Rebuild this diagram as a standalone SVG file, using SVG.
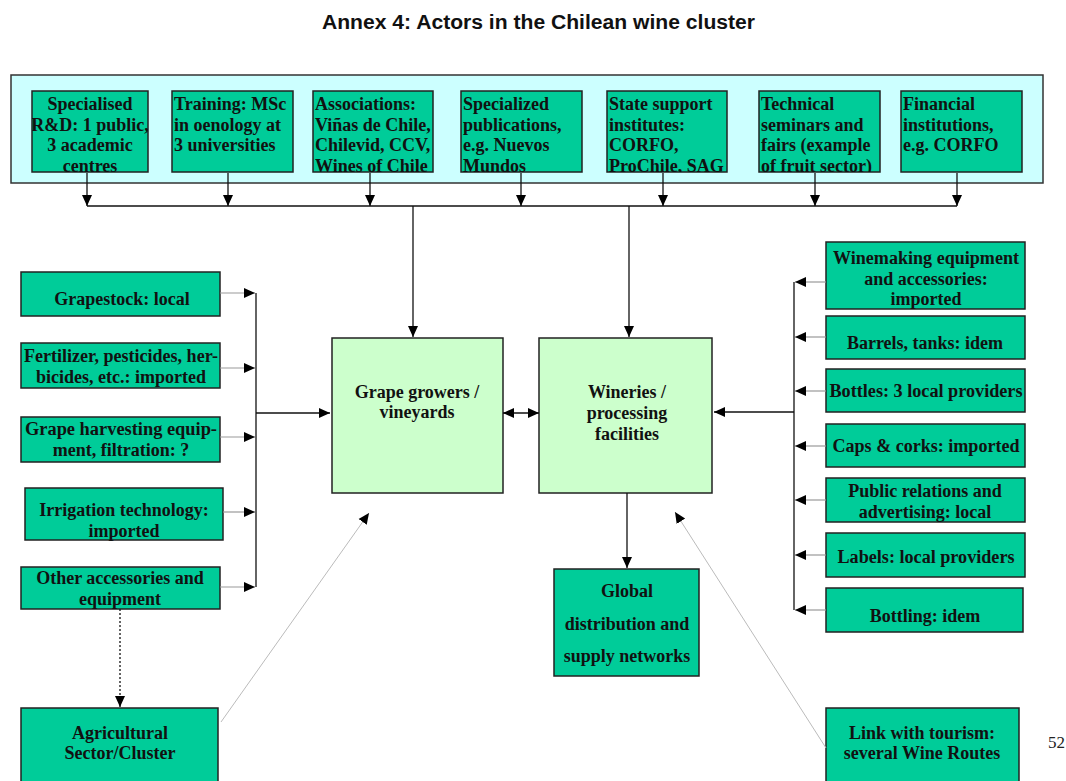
<svg xmlns="http://www.w3.org/2000/svg" width="1066" height="781" viewBox="0 0 1066 781">
<style>
.t{font-family:"Liberation Serif","Times New Roman",serif;font-weight:bold;font-size:18px;fill:#111}
.c{text-anchor:middle}
.g{fill:#00cc99;stroke:#222;stroke-width:1.5}
.lg{fill:#ccffcc;stroke:#222;stroke-width:1.5}
.ln{stroke:#111;stroke-width:1.3;fill:none}
.gr{stroke:#999;stroke-width:1.2;fill:none}
.fl{stroke:#bbb;stroke-width:1;fill:none}
</style>
<defs>
<marker id="ah" markerUnits="userSpaceOnUse" markerWidth="12" markerHeight="12" viewBox="0 0 12 12" refX="11" refY="6" orient="auto">
<path d="M0,1 L11,6 L0,11 Z" fill="#000"/>
</marker>
<marker id="as" markerUnits="userSpaceOnUse" markerWidth="12" markerHeight="12" viewBox="0 0 12 12" refX="1" refY="6" orient="auto">
<path d="M12,1 L1,6 L12,11 Z" fill="#000"/>
</marker>
<clipPath id="c1"><rect x="32" y="91" width="116" height="81"/></clipPath>
<clipPath id="c2"><rect x="172" y="91" width="121" height="81"/></clipPath>
<clipPath id="c3"><rect x="313" y="91" width="120" height="81"/></clipPath>
<clipPath id="c4"><rect x="461" y="91" width="121" height="81"/></clipPath>
<clipPath id="c5"><rect x="607" y="91" width="120" height="81"/></clipPath>
<clipPath id="c6"><rect x="759" y="91" width="121" height="81"/></clipPath>
<clipPath id="c7"><rect x="901" y="91" width="121" height="81"/></clipPath>
</defs>
<rect width="1066" height="781" fill="#fff"/>
<text x="322" y="29" textLength="433" lengthAdjust="spacingAndGlyphs" font-family="Liberation Sans, Arial, sans-serif" font-weight="bold" font-size="19.5" fill="#111">Annex 4: Actors in the Chilean wine cluster</text>

<rect x="11" y="75" width="1032" height="108" fill="#ccffff" stroke="#333" stroke-width="1.5"/>

<g id="n-rd"><rect class="g" x="32" y="91" width="116" height="81"/>
<g clip-path="url(#c1)"><text class="t c" x="90"><tspan x="90" y="110">Specialised</tspan><tspan x="90" y="130.5">R&amp;D: 1 public,</tspan><tspan x="90" y="151">3 academic</tspan><tspan x="90" y="171.5">centres</tspan></text></g></g>
<g id="n-training"><rect class="g" x="172" y="91" width="121" height="81"/>
<g clip-path="url(#c2)"><text class="t"><tspan x="174" y="110">Training: MSc</tspan><tspan x="174" y="130.5">in oenology at</tspan><tspan x="174" y="151">3 universities</tspan></text></g></g>
<g id="n-assoc"><rect class="g" x="313" y="91" width="120" height="81"/>
<g clip-path="url(#c3)"><text class="t"><tspan x="315" y="110">Associations:</tspan><tspan x="315" y="130.5">Viñas de Chile,</tspan><tspan x="315" y="151">Chilevid, CCV,</tspan><tspan x="315" y="171.5">Wines of Chile</tspan></text></g></g>
<g id="n-pub"><rect class="g" x="461" y="91" width="121" height="81"/>
<g clip-path="url(#c4)"><text class="t"><tspan x="463" y="110">Specialized</tspan><tspan x="463" y="130.5">publications,</tspan><tspan x="463" y="151">e.g. Nuevos</tspan><tspan x="463" y="171.5">Mundos</tspan></text></g></g>
<g id="n-state"><rect class="g" x="607" y="91" width="120" height="81"/>
<g clip-path="url(#c5)"><text class="t"><tspan x="609" y="110">State support</tspan><tspan x="609" y="130.5">institutes:</tspan><tspan x="609" y="151">CORFO,</tspan><tspan x="609" y="171.5">ProChile, SAG</tspan></text></g></g>
<g id="n-tech"><rect class="g" x="759" y="91" width="121" height="81"/>
<g clip-path="url(#c6)"><text class="t"><tspan x="761" y="110">Technical</tspan><tspan x="761" y="130.5">seminars and</tspan><tspan x="761" y="151">fairs (example</tspan><tspan x="761" y="171.5">of fruit sector)</tspan></text></g></g>
<g id="n-fin"><rect class="g" x="901" y="91" width="121" height="81"/>
<g clip-path="url(#c7)"><text class="t"><tspan x="903" y="110">Financial</tspan><tspan x="903" y="130.5">institutions,</tspan><tspan x="903" y="151">e.g. CORFO</tspan></text></g></g>

<g id="n-grape"><rect class="lg" x="332" y="338" width="171" height="155"/>
<text class="t c"><tspan x="417" y="398">Grape growers /</tspan><tspan x="417" y="418">vineyards</tspan></text></g>
<g id="n-wineries"><rect class="lg" x="539" y="338" width="173" height="155"/>
<text class="t c"><tspan x="627" y="398">Wineries /</tspan><tspan x="627" y="419">processing</tspan><tspan x="627" y="440">facilities</tspan></text></g>

<g id="n-grapestock"><rect class="g" x="21" y="272" width="199" height="44"/>
<text class="t c" x="122" y="305">Grapestock: local</text></g>
<g id="n-fert"><rect class="g" x="21" y="343" width="199" height="45"/>
<text class="t c"><tspan x="121" y="362" textLength="194" lengthAdjust="spacingAndGlyphs">Fertilizer, pesticides, her-</tspan><tspan x="121" y="383">bicides, etc.: imported</tspan></text></g>
<g id="n-harvest"><rect class="g" x="21" y="417" width="199" height="45"/>
<text class="t c"><tspan x="121" y="435" textLength="192" lengthAdjust="spacingAndGlyphs">Grape harvesting equip-</tspan><tspan x="121" y="456">ment, filtration: ?</tspan></text></g>
<g id="n-irrig"><rect class="g" x="25" y="488" width="198" height="52"/>
<text class="t c"><tspan x="124" y="516">Irrigation technology:</tspan><tspan x="124" y="537">imported</tspan></text></g>
<g id="n-other"><rect class="g" x="21" y="567" width="199" height="42"/>
<text class="t c"><tspan x="120" y="584">Other accessories and</tspan><tspan x="120" y="605">equipment</tspan></text></g>
<g id="n-agri"><rect class="g" x="21" y="708" width="197" height="80"/>
<text class="t c"><tspan x="120" y="739">Agricultural</tspan><tspan x="120" y="759">Sector/Cluster</tspan></text></g>

<g id="n-winemaking"><rect class="g" x="826" y="242" width="199" height="67"/>
<text class="t c"><tspan x="926" y="264" textLength="186" lengthAdjust="spacingAndGlyphs">Winemaking equipment</tspan><tspan x="926" y="285">and accessories:</tspan><tspan x="926" y="305">imported</tspan></text></g>
<g id="n-barrels"><rect class="g" x="826" y="316" width="199" height="43"/>
<text class="t c" x="925" y="349">Barrels, tanks: idem</text></g>
<g id="n-bottles"><rect class="g" x="826" y="369" width="199" height="43"/>
<text class="t c" x="926" y="397" textLength="193" lengthAdjust="spacingAndGlyphs">Bottles: 3 local providers</text></g>
<g id="n-caps"><rect class="g" x="826" y="424" width="199" height="43"/>
<text class="t c" x="926" y="452" textLength="187" lengthAdjust="spacingAndGlyphs">Caps &amp; corks: imported</text></g>
<g id="n-pr"><rect class="g" x="826" y="478" width="199" height="44"/>
<text class="t c"><tspan x="925" y="497">Public relations and</tspan><tspan x="925" y="518">advertising: local</tspan></text></g>
<g id="n-labels"><rect class="g" x="826" y="533" width="199" height="44"/>
<text class="t c" x="926" y="563" textLength="177" lengthAdjust="spacingAndGlyphs">Labels: local providers</text></g>
<g id="n-bottling"><rect class="g" x="826" y="588" width="197" height="44"/>
<text class="t c" x="925" y="622">Bottling: idem</text></g>
<g id="n-tourism"><rect class="g" x="826" y="708" width="193" height="80"/>
<text class="t c"><tspan x="922" y="739">Link with tourism:</tspan><tspan x="922" y="759">several Wine Routes</tspan></text></g>

<g id="n-global"><rect class="g" x="554" y="569" width="145" height="107"/>
<text class="t c"><tspan x="627" y="597">Global</tspan><tspan x="627" y="630">distribution and</tspan><tspan x="627" y="662">supply networks</tspan></text></g>

<text x="1048" y="748" font-family="Liberation Serif, serif" font-size="17" fill="#222">52</text>

<g id="connectors">
<path class="ln" d="M87,173 V206" marker-end="url(#ah)"/>
<path class="ln" d="M228,173 V206" marker-end="url(#ah)"/>
<path class="ln" d="M370,173 V206" marker-end="url(#ah)"/>
<path class="ln" d="M521,173 V206" marker-end="url(#ah)"/>
<path class="ln" d="M663,173 V206" marker-end="url(#ah)"/>
<path class="ln" d="M815,173 V206" marker-end="url(#ah)"/>
<path class="ln" d="M957,173 V206" marker-end="url(#ah)"/>
<path class="ln" d="M87,206 H957"/>
<path class="ln" d="M413,206 V337" marker-end="url(#ah)"/>
<path class="ln" d="M629,206 V337" marker-end="url(#ah)"/>

<path class="gr" d="M220,293 H255" marker-end="url(#ah)"/>
<path class="gr" d="M220,368 H255" marker-end="url(#ah)"/>
<path class="gr" d="M220,437 H255" marker-end="url(#ah)"/>
<path class="gr" d="M223,512 H255" marker-end="url(#ah)"/>
<path class="gr" d="M220,587 H255" marker-end="url(#ah)"/>
<path class="ln" d="M256,293 V587"/>
<path class="ln" d="M256,413 H330" marker-end="url(#ah)"/>

<path class="ln" d="M503,413 H539" marker-start="url(#as)" marker-end="url(#ah)"/>

<path class="gr" d="M826,282 H795" marker-end="url(#ah)"/>
<path class="gr" d="M826,337 H795" marker-end="url(#ah)"/>
<path class="gr" d="M826,391 H795" marker-end="url(#ah)"/>
<path class="gr" d="M826,446 H795" marker-end="url(#ah)"/>
<path class="gr" d="M826,500 H795" marker-end="url(#ah)"/>
<path class="gr" d="M826,555 H795" marker-end="url(#ah)"/>
<path class="gr" d="M826,610 H795" marker-end="url(#ah)"/>
<path class="ln" d="M794,282 V610"/>
<path class="ln" d="M794,412 H714" marker-end="url(#ah)"/>

<path class="ln" d="M627,493 V568" marker-end="url(#ah)"/>

<path d="M120,609 V707" stroke="#111" stroke-width="1.3" stroke-dasharray="2,2" fill="none" marker-end="url(#ah)"/>

<path class="fl" d="M221,722 L369,513" marker-end="url(#ah)"/>
<path class="fl" d="M826,748 L675,512" marker-end="url(#ah)"/>
</g>
</svg>
